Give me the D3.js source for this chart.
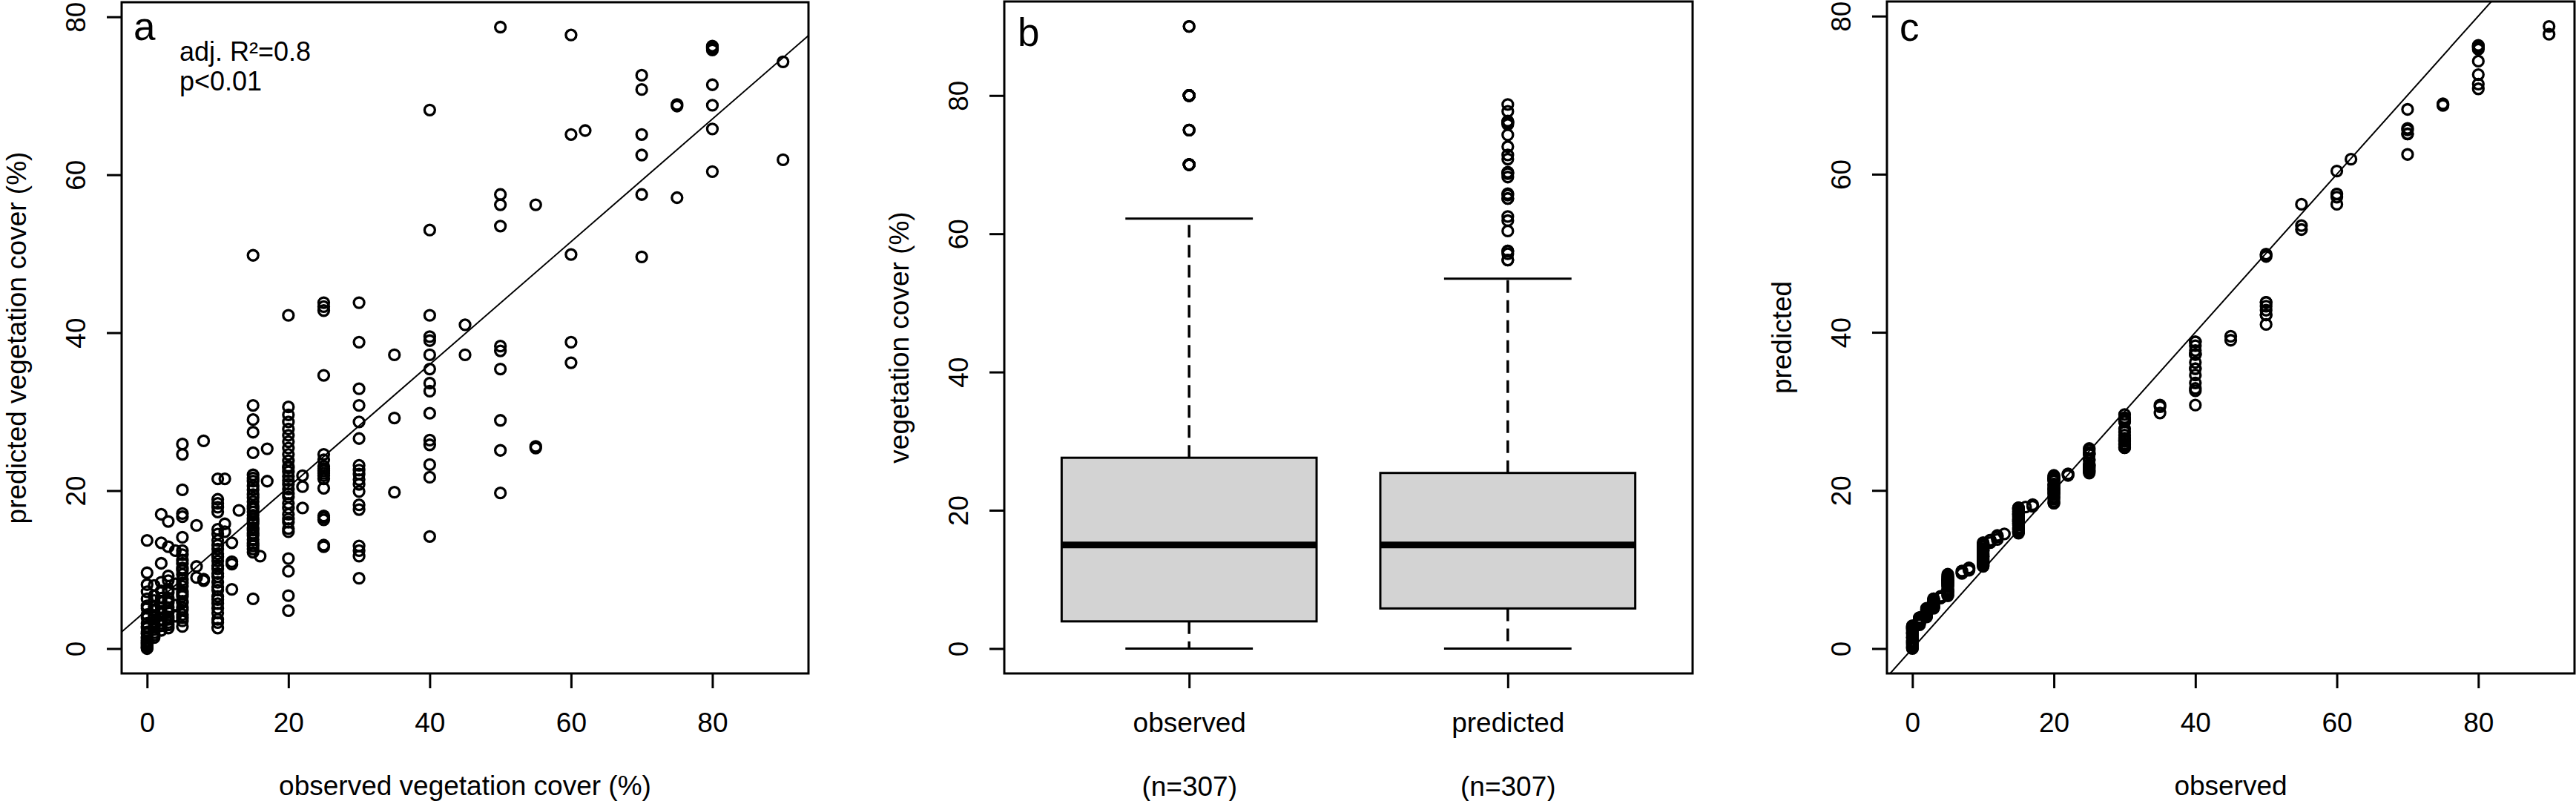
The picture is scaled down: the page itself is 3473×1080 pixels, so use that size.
<!DOCTYPE html>
<html>
<head>
<meta charset="utf-8">
<script src="https://cdn.jsdelivr.net/npm/d3@7"></script>
<style>
    body { margin: 0; background: #fff; }
    text { font-family: "Liberation Sans", Arial, sans-serif; fill: #000; }
</style>
</head>
<body>
<div id="vis"></div>
<script>
// observed cover classes (%) and the predicted values for each class
var obsLevels = [0, 1, 2, 3, 4, 5, 7, 8, 10, 11, 12, 13, 15, 16, 17, 20, 22, 25,
    30, 35, 40, 45, 50, 55, 60, 62, 70, 75, 80, 90];

var predByLevel = [
    [13.7, 9.6, 8.1, 7.2, 6.3, 5.4, 5.1, 4.3, 3.9, 3.2, 2.8, 2.6, 2.1, 1.9, 1.9, 1.5, 1.4, 1.3, 1.0, 0.9, 0.7, 0.7, 0.5, 0.4, 0.2, 0.2, 0.1, 0.0],
    [8.0, 6.7, 6.1, 5.3, 4.9, 4.2, 3.9, 3.4, 3.1, 2.7, 2.4, 2.0, 1.7, 1.4],
    [17.0, 13.4, 10.8, 8.4, 7.3, 6.4, 5.9, 5.2, 4.7, 4.4, 3.7, 3.2, 2.9, 2.3],
    [16.1, 12.9, 9.2, 8.6, 7.5, 7.1, 6.4, 6.0, 5.8, 5.2, 4.8, 4.6, 4.0, 3.7, 3.3, 3.0, 2.6],
    [12.4, 8.2, 5.5, 4.1],
    [25.9, 24.6, 20.1, 17.1, 16.7, 14.1, 12.4, 11.9, 11.2, 10.8, 10.2, 9.9, 9.4, 8.7, 8.3, 7.9, 7.2, 6.9, 6.6, 6.0, 5.8, 5.2, 4.9, 4.3, 3.9, 3.5, 2.8],
    [15.6, 10.4, 9.0],
    [26.3, 8.8, 8.6],
    [21.5, 18.9, 18.4, 17.9, 17.3, 15.1, 14.5, 13.7, 13.1, 12.6, 12.0, 11.6, 11.1, 10.5, 10.1, 9.5, 9.1, 8.4, 7.8, 7.4, 6.6, 6.2, 5.7, 5.1, 4.5, 3.7, 3.3, 2.6],
    [21.5, 15.8, 14.8],
    [13.4, 11.0, 10.7, 7.5],
    [17.5],
    [49.8, 30.8, 29.0, 27.4, 24.8, 22.0, 21.6, 21.2, 20.6, 20.1, 19.5, 19.1, 18.6, 18.0, 17.7, 17.3, 16.9, 16.4, 16.1, 15.8, 15.3, 15.0, 14.6, 14.3, 13.8, 13.3, 13.0, 12.6, 12.2, 6.3],
    [11.7],
    [25.3, 21.2],
    [42.2, 30.6, 29.6, 28.7, 27.8, 27.0, 26.2, 25.4, 24.6, 23.8, 23.1, 22.9, 22.4, 21.8, 21.3, 20.8, 20.2, 19.6, 19.2, 18.4, 17.8, 17.0, 16.4, 16.0, 15.2, 14.8, 11.4, 9.8, 6.7, 4.8],
    [21.9, 20.5, 17.8],
    [43.8, 43.3, 42.8, 34.6, 24.6, 23.9, 23.1, 22.8, 22.5, 22.2, 21.9, 21.5, 20.3, 16.8, 16.6, 16.3, 13.1, 12.9],
    [43.8, 38.8, 32.9, 30.8, 28.7, 26.6, 23.2, 22.6, 22.1, 21.4, 20.8, 19.9, 18.2, 17.6, 13.0, 12.4, 11.7, 8.9],
    [37.2, 29.2, 19.8],
    [68.2, 53.0, 42.2, 39.5, 39.0, 37.2, 35.4, 33.6, 32.6, 29.8, 26.4, 25.8, 23.3, 21.7, 14.2],
    [41.0, 37.2],
    [78.7, 57.5, 56.2, 53.5, 38.3, 37.7, 35.4, 28.9, 25.1, 19.7],
    [56.2, 25.6, 25.4],
    [77.7, 65.1, 49.9, 38.8, 36.2],
    [65.6],
    [72.6, 70.8, 65.1, 62.5, 57.5, 49.6],
    [68.9, 68.7, 57.1],
    [76.3, 76.2, 76.1, 76.0, 75.8, 71.4, 68.8, 65.8, 60.4],
    [74.3, 61.9]
];

// linear fit shown in panel a: intercept, slope
var fitCoef = [4.9, 0.777];
var fitText = ['adj. R\u00b2=0.8', 'p<0.01'];

// boxplot (panel b): lower whisker, lower hinge, median, upper hinge, upper whisker
var boxGroups = ['observed', 'predicted'];
var boxStats = [
    [0, 3.93, 15, 27.6, 62.2],
    [0, 5.8, 15, 25.4, 53.5]
];

var axisTicks = [0, 20, 40, 60, 80];
var panelLetters = ['a', 'b', 'c'];


// flatten the pairs
var observed = [];
var predicted = [];
obsLevels.forEach(function(lv, i) {
    predByLevel[i].forEach(function(p) {
        observed.push(lv);
        predicted.push(p);
    });
});

// R style axis range (4% padding on each side)
function rRange(lo, hi)
{
    var d = (hi - lo) * 0.04;
    return [lo - d, hi + d];
}

var W = 3473, H = 1080;
var fontSize = 37;

var panels = [
    { left: 164, right: 1090, top: 3, bottom: 908 },
    { left: 1354, right: 2282, top: 2, bottom: 908 },
    { left: 2544, right: 3471, top: 2, bottom: 908 }
];

var svg = d3.select('#vis')
    .append('svg')
        .attr('width', W)
        .attr('height', H);

svg.append('rect')
    .attr('width', W)
    .attr('height', H)
    .attr('fill', '#fff');

var defs = svg.append('defs');

function clipFor(p, id)
{
    defs.append('clipPath')
        .attr('id', id)
        .append('rect')
            .attr('x', p.left)
            .attr('y', p.top)
            .attr('width', p.right - p.left)
            .attr('height', p.bottom - p.top);
    return 'url(#' + id + ')';
}

function frame(p)
{
    svg.append('rect')
        .attr('x', p.left)
        .attr('y', p.top)
        .attr('width', p.right - p.left)
        .attr('height', p.bottom - p.top)
        .attr('fill', 'none')
        .attr('stroke', '#000')
        .attr('stroke-width', 3);
}

function leftAxis(p, y, title)
{
    var g = svg.append('g')
        .attr('transform', 'translate(' + p.left + ',0)')
        .call(d3.axisLeft(y).tickValues(axisTicks).tickSize(20).tickFormat(d3.format('d')));
    g.attr('font-size', fontSize).attr('font-family', null);
    g.select('.domain').remove();
    g.selectAll('.tick line').attr('stroke-width', 3);
    g.selectAll('.tick text')
        .attr('x', null)
        .attr('dy', '0.35em')
        .attr('text-anchor', 'middle')
        .attr('transform', 'translate(-62,0) rotate(-90)');

    svg.append('text')
        .attr('transform', 'translate(' + (p.left - 142) + ',' + ((p.top + p.bottom) / 2) + ') rotate(-90)')
        .attr('dy', '0.35em')
        .attr('text-anchor', 'middle')
        .attr('font-size', fontSize)
        .text(title);
}

function bottomAxis(p, x, title)
{
    var g = svg.append('g')
        .attr('transform', 'translate(0,' + p.bottom + ')')
        .call(d3.axisBottom(x).tickValues(axisTicks).tickSize(20).tickFormat(d3.format('d')));
    g.attr('font-size', fontSize).attr('font-family', null);
    g.select('.domain').remove();
    g.selectAll('.tick line').attr('stroke-width', 3);
    g.selectAll('.tick text')
        .attr('y', 66)
        .attr('dy', '0.35em');

    svg.append('text')
        .attr('x', (p.left + p.right) / 2)
        .attr('y', 1072)
        .attr('text-anchor', 'middle')
        .attr('font-size', fontSize)
        .text(title);
}

function letter(i, x, y)
{
    svg.append('text')
        .attr('x', x)
        .attr('y', y)
        .attr('font-size', 53)
        .text(panelLetters[i]);
}

function dots(data, x, y)
{
    svg.append('g')
        .selectAll('circle')
        .data(data)
        .enter()
        .append('circle')
            .attr('cx', function(d) { return x(d[0]); })
            .attr('cy', function(d) { return y(d[1]); })
            .attr('r', 7)
            .attr('fill', 'none')
            .attr('stroke', '#000')
            .attr('stroke-width', 3.3);
}

var obsDomain = rRange(d3.min(observed), d3.max(observed));
var predDomain = rRange(d3.min(predicted), d3.max(predicted));

// ---------- panel a : predicted vs observed ----------
var pa = panels[0];
var xa = d3.scaleLinear().domain(obsDomain).range([pa.left, pa.right]);
var ya = d3.scaleLinear().domain(predDomain).range([pa.bottom, pa.top]);

var pairs = observed.map(function(o, i) { return [o, predicted[i]]; });
dots(pairs, xa, ya);

svg.append('line')
    .attr('clip-path', clipFor(pa, 'clipA'))
    .attr('x1', xa(obsDomain[0]))
    .attr('y1', ya(fitCoef[0] + fitCoef[1] * obsDomain[0]))
    .attr('x2', xa(obsDomain[1]))
    .attr('y2', ya(fitCoef[0] + fitCoef[1] * obsDomain[1]))
    .attr('stroke', '#000')
    .attr('stroke-width', 2);

frame(pa);
leftAxis(pa, ya, 'predicted vegetation cover (%)');
bottomAxis(pa, xa, 'observed vegetation cover (%)');
letter(0, 180, 54);

svg.selectAll('.fittext')
    .data(fitText)
    .enter()
    .append('text')
        .attr('class', 'fittext')
        .attr('x', 242)
        .attr('y', function(d, i) { return 82 + i * 40; })
        .attr('font-size', 36)
        .text(function(d) { return d; });

// ---------- panel b : boxplots ----------
var pb = panels[1];
var xb = d3.scaleLinear().domain(rRange(0.5, 2.5)).range([pb.left, pb.right]);
var yb = d3.scaleLinear().domain(rRange(0, d3.max(observed.concat(predicted)))).range([pb.bottom, pb.top]);
var series = [observed, predicted];

boxStats.forEach(function(s, i) {
    var cx = i + 1;
    var g = svg.append('g');

    // whiskers
    [[s[3], s[4]], [s[1], s[0]]].forEach(function(w) {
        g.append('line')
            .attr('x1', xb(cx)).attr('x2', xb(cx))
            .attr('y1', yb(w[0])).attr('y2', yb(w[1]))
            .attr('stroke', '#000')
            .attr('stroke-width', 3.5)
            .attr('stroke-dasharray', '17,10');
        g.append('line')
            .attr('x1', xb(cx - 0.2)).attr('x2', xb(cx + 0.2))
            .attr('y1', yb(w[1])).attr('y2', yb(w[1]))
            .attr('stroke', '#000')
            .attr('stroke-width', 3);
    });

    g.append('rect')
        .attr('x', xb(cx - 0.4))
        .attr('y', yb(s[3]))
        .attr('width', xb(cx + 0.4) - xb(cx - 0.4))
        .attr('height', yb(s[1]) - yb(s[3]))
        .attr('fill', '#d3d3d3')
        .attr('stroke', '#000')
        .attr('stroke-width', 3);

    g.append('line')
        .attr('x1', xb(cx - 0.4)).attr('x2', xb(cx + 0.4))
        .attr('y1', yb(s[2])).attr('y2', yb(s[2]))
        .attr('stroke', '#000')
        .attr('stroke-width', 9);

    var out = series[i].filter(function(v) { return v > s[4] || v < s[0]; });
    dots(out.map(function(v) { return [cx, v]; }), xb, yb);
});

frame(pb);
leftAxis(pb, yb, 'vegetation cover (%)');

var gb = svg.append('g')
    .attr('transform', 'translate(0,' + pb.bottom + ')')
    .call(d3.axisBottom(xb).tickValues([1, 2]).tickSize(20)
        .tickFormat(function(d) { return boxGroups[d - 1]; }));
gb.attr('font-size', fontSize).attr('font-family', null);
gb.select('.domain').remove();
gb.selectAll('.tick line').attr('stroke-width', 3);
gb.selectAll('.tick text').attr('y', 66).attr('dy', '0.35em');
gb.selectAll('.tick')
    .append('text')
        .attr('y', 152)
        .attr('dy', '0.35em')
        .attr('fill', 'currentColor')
        .text(function(d) { return '(n=' + series[d - 1].length + ')'; });

letter(1, 1372, 62);

// ---------- panel c : quantiles of predicted vs observed ----------
var pc = panels[2];
var xc = d3.scaleLinear().domain(obsDomain).range([pc.left, pc.right]);
var yc = d3.scaleLinear().domain(predDomain).range([pc.bottom, pc.top]);

var obsSorted = observed.slice().sort(d3.ascending);
var predSorted = predicted.slice().sort(d3.ascending);
dots(obsSorted.map(function(o, i) { return [o, predSorted[i]]; }), xc, yc);

svg.append('line')
    .attr('clip-path', clipFor(pc, 'clipC'))
    .attr('x1', xc(-10)).attr('y1', yc(-10))
    .attr('x2', xc(100)).attr('y2', yc(100))
    .attr('stroke', '#000')
    .attr('stroke-width', 2);

frame(pc);
leftAxis(pc, yc, 'predicted');
bottomAxis(pc, xc, 'observed');
letter(2, 2561, 55);
</script>
</body>
</html>
